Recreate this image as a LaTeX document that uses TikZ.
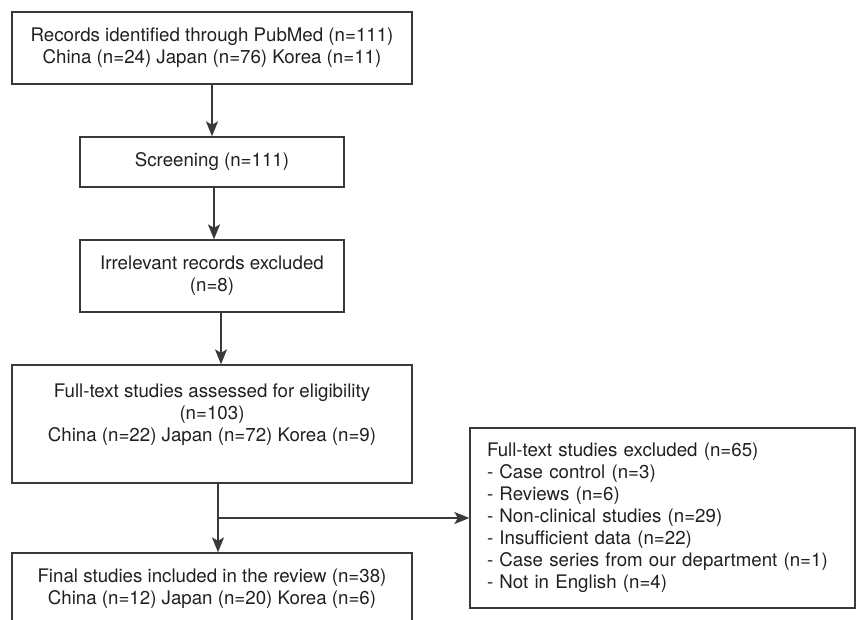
\documentclass[tikz,border=0pt]{standalone}
\usepackage{fontspec}
\setmainfont{TeX Gyre Heros}
\usetikzlibrary{arrows.meta,calc}
\definecolor{linegray}{HTML}{3A3A3A}
\definecolor{textblack}{HTML}{231F20}
\begin{document}
\begin{tikzpicture}[x=1pt,y=-1pt,
  box/.style={draw=linegray, line width=1.3pt, inner sep=0pt, align=center,
    text=textblack, font=\fontsize{18.7}{22}\selectfont},
  arr/.style={draw=linegray, line width=1.3pt,
    -{Stealth[length=15pt,width=12pt,inset=3.5pt]}}]
\useasboundingbox (0,0) rectangle (857,620);
\clip (0,0) rectangle (857,620);
\node[box, minimum width=400pt, minimum height=72pt] (b1) at (212,48)
  {Records identified through PubMed (n=111)\\China (n=24) Japan (n=76) Korea (n=11)};
\node[box, minimum width=264pt, minimum height=50pt] (b2) at (212,162)
  {Screening (n=111)};
\node[box, minimum width=264pt, minimum height=72pt] (b3) at (212,276)
  {Irrelevant records excluded\\(n=8)};
\node[box, minimum width=400pt, minimum height=118pt] (b4) at (212,424)
  {Full-text studies assessed for eligibility\\(n=103)\\China (n=22) Japan (n=72) Korea (n=9)\\~};
\node[box, minimum width=400pt, minimum height=72pt] (b5) at (212,589)
  {Final studies included in the review (n=38)\\China (n=12) Japan (n=20) Korea (n=6)};
\node[box, minimum width=385pt, minimum height=180pt, align=left, text width=351pt,
  inner xsep=17pt] (b6) at (662.5,518)
  {Full-text studies excluded (n=65)\\
   - Case control (n=3)\\
   - Reviews (n=6)\\
   - Non-clinical studies (n=29)\\
   - Insufficient data (n=22)\\
   - Case series from our department (n=1)\\
   - Not in English (n=4)};
\draw[arr] (b1.south) -- (b2.north);
\draw[arr] ([xshift=2pt]b2.south) -- ([xshift=2pt]b3.north);
\draw[arr] ([xshift=9pt]b3.south) -- ([xshift=9pt]b4.north);
\draw[arr] ([xshift=6pt]b4.south) -- ([xshift=6pt]b5.north);
\coordinate (j) at (218,518);
\draw[arr] (j) -- (b6.west);
\end{tikzpicture}
\end{document}
